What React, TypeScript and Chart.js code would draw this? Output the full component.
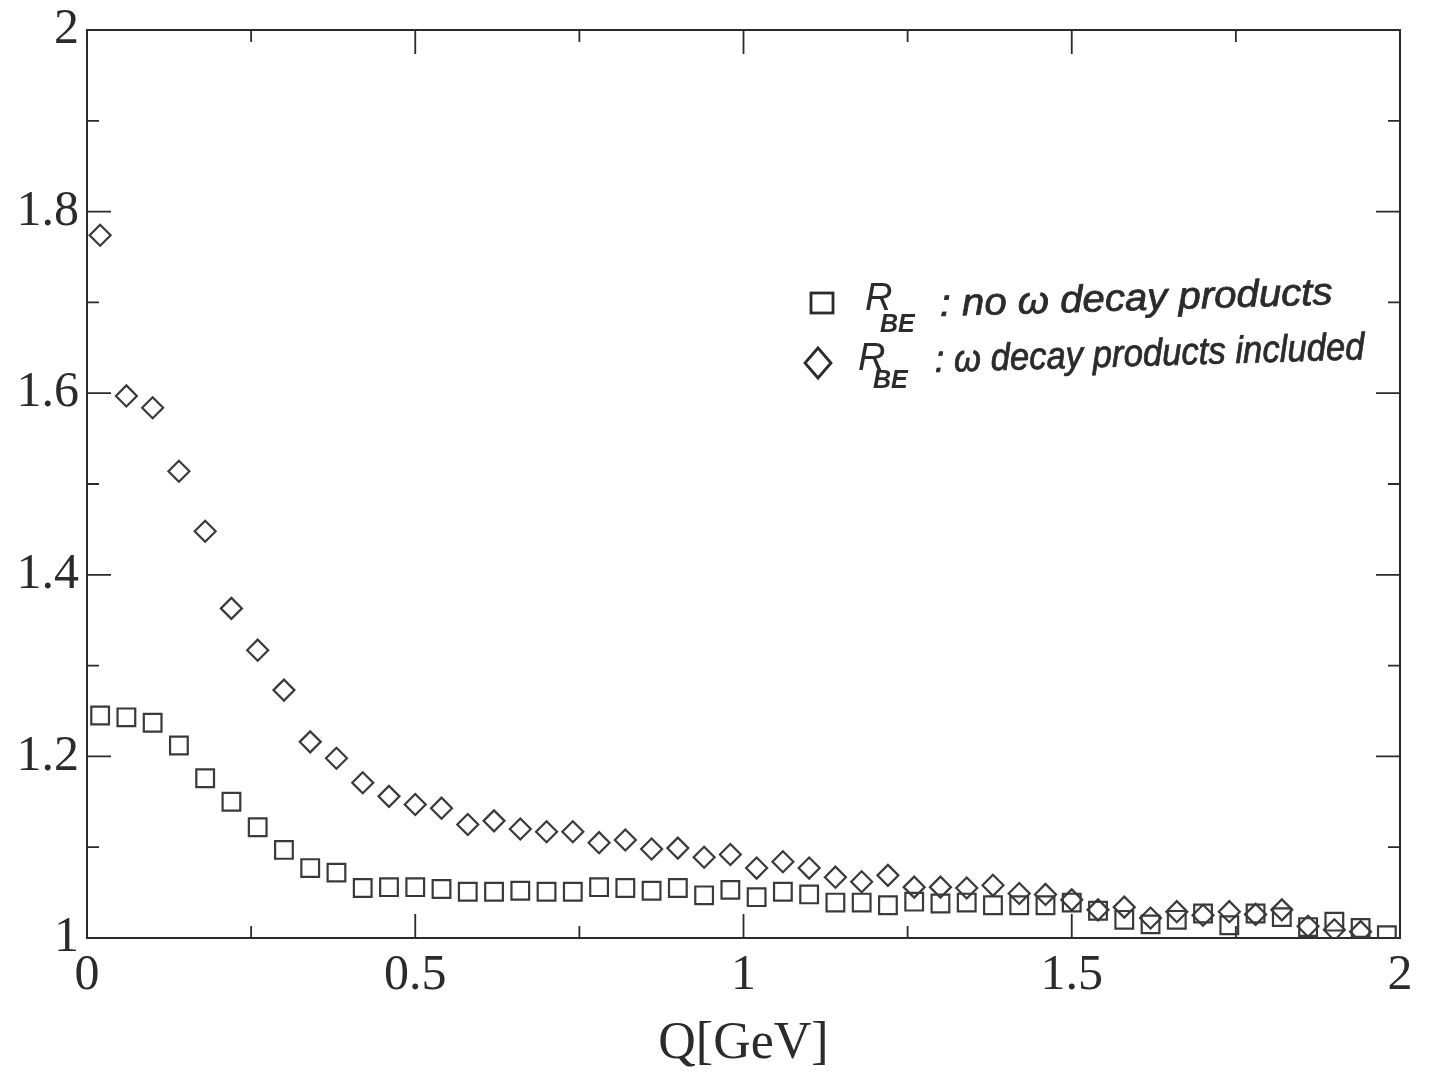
import { useEffect, useRef } from "react";
import { Chart, registerables } from "chart.js";

Chart.register(...registerables);

// Q [GeV] bin centres
const qValues = [
  0.02, 0.06, 0.1, 0.14, 0.18, 0.22, 0.26, 0.3, 0.34, 0.38,
  0.42, 0.46, 0.5, 0.54, 0.58, 0.62, 0.66, 0.7, 0.74, 0.78,
  0.82, 0.86, 0.9, 0.94, 0.98, 1.02, 1.06, 1.1, 1.14, 1.18,
  1.22, 1.26, 1.3, 1.34, 1.38, 1.42, 1.46, 1.5, 1.54, 1.58,
  1.62, 1.66, 1.7, 1.74, 1.78, 1.82, 1.86, 1.9, 1.94, 1.98,
];

// R_BE : no omega decay products (squares)
const rNoOmega = [
  1.245, 1.243, 1.237, 1.212, 1.176, 1.15, 1.122, 1.097, 1.077, 1.072,
  1.055, 1.056, 1.056, 1.054, 1.051, 1.051, 1.052, 1.051, 1.051, 1.056,
  1.055, 1.052, 1.055, 1.047, 1.053, 1.045, 1.051, 1.048, 1.039, 1.039,
  1.036, 1.04, 1.038, 1.039, 1.036, 1.036, 1.036, 1.039, 1.03, 1.02,
  1.015, 1.02, 1.027, 1.014, 1.027, 1.023, 1.012, 1.018, 1.011, 1.003,
];

// R_BE : omega decay products included (diamonds)
const rWithOmega = [
  1.774, 1.597, 1.584, 1.514, 1.448, 1.363, 1.317, 1.273, 1.216, 1.198,
  1.171, 1.156, 1.147, 1.143, 1.125, 1.129, 1.12, 1.117, 1.117, 1.105,
  1.108, 1.098, 1.099, 1.089, 1.092, 1.077, 1.084, 1.077, 1.067, 1.062,
  1.069, 1.056, 1.056, 1.055, 1.058, 1.049, 1.048, 1.042, 1.031, 1.034,
  1.022, 1.029, 1.025, 1.029, 1.026, 1.031, 1.013, 1.009, 1.007,
];

const xMajorTicks = [0, 0.5, 1, 1.5, 2];
const xTickLabels = ["0", "0.5", "1", "1.5", "2"];
const xMinorTicks = [0.25, 0.75, 1.25, 1.75];
const yMajorTicks = [1, 1.2, 1.4, 1.6, 1.8, 2];
const yTickLabels = ["1", "1.2", "1.4", "1.6", "1.8", "2"];
const yMinorTicks = [1.1, 1.3, 1.5, 1.7, 1.9];

const xTitle = "Q[GeV]";
const legendLines = [
  { marker: "rect", main: "R", sub: "BE", rest: ": no \u03c9 decay products" },
  { marker: "diamond", main: "R", sub: "BE", rest: ": \u03c9 decay products included" },
];

const INK = "#2b2b2b";
const SERIF = "'Liberation Serif', 'DejaVu Serif', serif";
const HAND = "'Liberation Sans', 'DejaVu Sans', sans-serif";

const framePlugin = {
  id: "frameTicks",
  beforeDatasetsDraw(chart: any) {
    const { ctx, chartArea: a, scales } = chart;
    const x = scales.x;
    const y = scales.y;
    ctx.save();
    ctx.strokeStyle = INK;
    ctx.lineWidth = 2;
    ctx.strokeRect(a.left, a.top, a.right - a.left, a.bottom - a.top);
    ctx.lineWidth = 1.8;
    const xt = (v: number, len: number) => {
      const px = x.getPixelForValue(v);
      ctx.beginPath();
      ctx.moveTo(px, a.bottom);
      ctx.lineTo(px, a.bottom - len);
      ctx.moveTo(px, a.top);
      ctx.lineTo(px, a.top + len);
      ctx.stroke();
    };
    const yt = (v: number, len: number) => {
      const py = y.getPixelForValue(v);
      ctx.beginPath();
      ctx.moveTo(a.left, py);
      ctx.lineTo(a.left + len, py);
      ctx.moveTo(a.right, py);
      ctx.lineTo(a.right - len, py);
      ctx.stroke();
    };
    xMajorTicks.forEach((v) => xt(v, 24));
    xMinorTicks.forEach((v) => xt(v, 12));
    yMajorTicks.forEach((v) => yt(v, 24));
    yMinorTicks.forEach((v) => yt(v, 12));
    ctx.restore();
  },
};

const legendPlugin = {
  id: "handLegend",
  afterDraw(chart: any) {
    const { ctx, chartArea: a } = chart;
    const ox = a.left;
    const oy = a.top;
    const rows = [
      { mx: 735, my: 273, rx: 778, base: 280, subBase: 302, restX: 853, restBase: 286, restW: 393 },
      { mx: 731, my: 333, rx: 771, base: 340, subBase: 358, restX: 848, restBase: 342, restW: 430 },
    ];
    ctx.save();
    ctx.strokeStyle = INK;
    ctx.fillStyle = INK;
    ctx.lineWidth = 2.8;
    legendLines.forEach((ln, i) => {
      const r = rows[i];
      const mx = ox + r.mx;
      const my = oy + r.my;
      if (ln.marker === "rect") {
        ctx.strokeRect(mx - 11, my - 10, 22, 20);
      } else {
        ctx.beginPath();
        ctx.moveTo(mx, my - 15);
        ctx.lineTo(mx + 13, my);
        ctx.lineTo(mx, my + 15);
        ctx.lineTo(mx - 13, my);
        ctx.closePath();
        ctx.stroke();
      }
      ctx.textBaseline = "alphabetic";
      ctx.textAlign = "left";
      ctx.font = `italic 38px ${HAND}`;
      ctx.fillText(ln.main, ox + r.rx, oy + r.base);
      ctx.font = `italic bold 25px ${HAND}`;
      ctx.fillText(ln.sub, ox + r.rx + 15, oy + r.subBase);
      ctx.font = `italic 38px ${HAND}`;
      const w = ctx.measureText(ln.rest).width;
      ctx.save();
      ctx.translate(ox + r.restX, oy + r.restBase);
      ctx.rotate(-0.03);
      ctx.scale(r.restW / w, 1);
      ctx.lineWidth = 0.8;
      ctx.fillText(ln.rest, 0, 0);
      ctx.strokeText(ln.rest, 0, 0);
      ctx.restore();
    });
    ctx.restore();
  },
};

export default function App() {
  const ref = useRef<HTMLCanvasElement | null>(null);
  useEffect(() => {
    if (!ref.current) return;
    const chart = new Chart(ref.current, {
      type: "scatter",
      data: {
        datasets: [
          {
            label: "R_BE : no \u03c9 decay products",
            data: qValues.map((q, i) => ({ x: q, y: rNoOmega[i] })),
            pointStyle: "rect",
            pointRadius: 12.5,
            pointHoverRadius: 12.5,
            borderColor: "#3a3a3a",
            backgroundColor: "rgba(0,0,0,0)",
            pointBorderWidth: 2.2,
            showLine: false,
          },
          {
            label: "R_BE : \u03c9 decay products included",
            data: rWithOmega.map((r, i) => ({ x: qValues[i], y: r })),
            pointStyle: "rectRot",
            pointRadius: 10.5,
            pointHoverRadius: 10.5,
            borderColor: "#3a3a3a",
            backgroundColor: "rgba(0,0,0,0)",
            pointBorderWidth: 2.2,
            showLine: false,
          },
        ],
      },
      options: {
        animation: false,
        responsive: false,
        maintainAspectRatio: false,
        events: [],
        layout: { padding: { top: 30, right: 30, left: 0, bottom: 0 } },
        plugins: { legend: { display: false }, tooltip: { enabled: false } },
        scales: {
          x: {
            type: "linear",
            min: 0,
            max: 2,
            afterBuildTicks: (s: any) => {
              s.ticks = xMajorTicks.map((v) => ({ value: v }));
            },
            afterFit: (s: any) => {
              s.height = 140;
            },
            grid: { display: false, drawTicks: false },
            border: { display: false },
            ticks: {
              autoSkip: false,
              maxRotation: 0,
              padding: 8,
              color: INK,
              font: { family: SERIF, size: 50 },
              callback: (_v: any, i: number) => xTickLabels[i],
            },
            title: {
              display: true,
              text: xTitle,
              color: INK,
              font: { family: SERIF, size: 52 },
              padding: { top: 0, bottom: 2 },
            },
          },
          y: {
            type: "linear",
            min: 1,
            max: 2,
            afterBuildTicks: (s: any) => {
              s.ticks = yMajorTicks.map((v) => ({ value: v }));
            },
            afterFit: (s: any) => {
              s.width = 87;
            },
            grid: { display: false, drawTicks: false },
            border: { display: false },
            ticks: {
              autoSkip: false,
              padding: 8,
              color: INK,
              font: { family: SERIF, size: 50, lineHeight: 0.6 },
              callback: (_v: any, i: number) => yTickLabels[i],
            },
          },
        },
      },
      plugins: [framePlugin, legendPlugin],
    } as any);
    return () => chart.destroy();
  }, []);
  return (
    <div style={{ position: "fixed", left: 0, top: 0, width: 1430, height: 1078, background: "#fff" }}>
      <canvas ref={ref} width={1430} height={1078} />
    </div>
  );
}
